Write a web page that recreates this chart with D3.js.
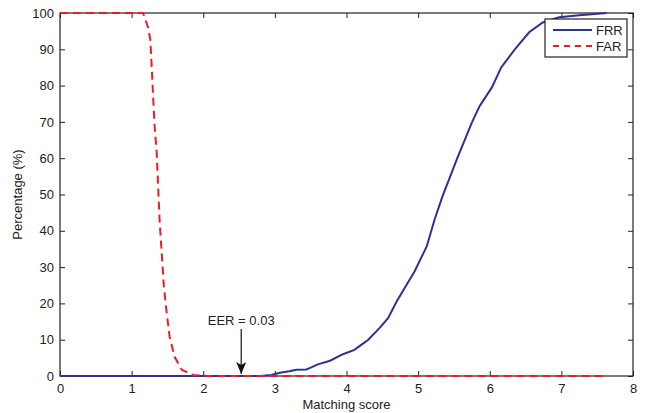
<!DOCTYPE html>
<html>
<head>
<meta charset="utf-8">
<script src="https://cdn.jsdelivr.net/npm/d3@7"></script>
<style>
  body { margin: 0; background: #fff; }
  svg text { font-family: "Liberation Sans", Arial, sans-serif; fill: #222; }
</style>
</head>
<body>
<div id="chart"></div>
<script>
// values
var seriesNames = ["FRR", "FAR"]
var frrX = [0, 2.8, 2.95, 3.07, 3.2, 3.3, 3.44, 3.5, 3.6, 3.77, 3.95, 4.11, 4.2, 4.3, 4.46, 4.58, 4.7, 4.81, 4.95, 5.12, 5.23, 5.34, 5.54, 5.75, 5.86, 6.03, 6.16, 6.35, 6.55, 6.74, 6.97, 7.25, 7.63]
var frrY = [0, 0, 0.3, 0.9, 1.3, 1.7, 1.8, 2.3, 3.2, 4.2, 6.0, 7.2, 8.5, 9.9, 13.2, 15.9, 20.5, 24.2, 28.8, 35.7, 43.1, 49.5, 59.7, 69.8, 74.4, 79.5, 85, 90, 94.7, 97.4, 98.8, 99.4, 100]
var farX = [0, 1.16, 1.23, 1.26, 1.28, 1.3, 1.32, 1.35, 1.37, 1.39, 1.42, 1.45, 1.49, 1.53, 1.6, 1.7, 1.86, 2.05, 7.62]
var farY = [100, 100, 96, 92.8, 85.4, 77, 69, 61.5, 52.3, 43.1, 33.9, 24.7, 17.3, 10.9, 5.3, 1.7, 0.3, 0, 0]
var xTicks = [0, 1, 2, 3, 4, 5, 6, 7, 8]
var yTicks = [0, 10, 20, 30, 40, 50, 60, 70, 80, 90, 100]
var eer = { x: 2.53, label: "EER = 0.03" }

var width = 645, height = 413
var margin = { top: 13, right: 12, bottom: 37, left: 60 }
var w = width - margin.left - margin.right
var h = height - margin.top - margin.bottom

var svg = d3.select("#chart").append("svg")
    .attr("width", width)
    .attr("height", height)

var defs = svg.append("defs")
defs.append("marker")
    .attr("id", "arrow")
    .attr("viewBox", "0 0 12 10")
    .attr("refX", 12).attr("refY", 5)
    .attr("markerWidth", 12).attr("markerHeight", 10)
    .attr("markerUnits", "userSpaceOnUse")
    .attr("orient", "auto")
    .append("path")
    .attr("d", "M0,0 L12,5 L0,10 L3,5 Z")
    .attr("fill", "#111")

var g = svg.append("g")
    .attr("transform", "translate(" + margin.left + "," + margin.top + ")")

var x = d3.scaleLinear().domain([0, 8]).range([0, w])
var y = d3.scaleLinear().domain([0, 100]).range([h, 0])

// axes, ticks pointing inward like matlab
function styleAxis(sel, hideText) {
    sel.select(".domain").remove()
    sel.selectAll("line").attr("stroke", "#222")
    sel.selectAll("text").style("font-size", "13px")
    if (hideText) sel.selectAll("text").remove()
}
g.append("g").attr("transform", "translate(0," + h + ")")
    .call(d3.axisBottom(x).tickValues(xTicks).tickSizeInner(-5).tickPadding(8).tickFormat(d3.format("d")))
    .call(styleAxis, false)
g.append("g")
    .call(d3.axisTop(x).tickValues(xTicks).tickSizeInner(-5))
    .call(styleAxis, true)
g.append("g")
    .call(d3.axisLeft(y).tickValues(yTicks).tickSizeInner(-5).tickPadding(6))
    .call(styleAxis, false)
g.append("g").attr("transform", "translate(" + w + ",0)")
    .call(d3.axisRight(y).tickValues(yTicks).tickSizeInner(-5))
    .call(styleAxis, true)

g.append("rect")
    .attr("width", w).attr("height", h)
    .attr("fill", "none")
    .attr("stroke", "#222")
    .attr("stroke-width", 1.2)

var line = d3.line().x(d => x(d[0])).y(d => y(d[1]))

g.append("path")
    .datum(d3.zip(frrX, frrY))
    .attr("d", line)
    .attr("fill", "none")
    .attr("stroke", "#2e3192")
    .attr("stroke-width", 2)

g.append("path")
    .datum(d3.zip(farX, farY))
    .attr("d", line)
    .attr("fill", "none")
    .attr("stroke", "#ed1c24")
    .attr("stroke-width", 2)
    .attr("stroke-dasharray", "8,5")

// EER annotation
g.append("line")
    .attr("x1", x(eer.x)).attr("x2", x(eer.x))
    .attr("y1", y(0) - 47).attr("y2", y(0) - 2)
    .attr("stroke", "#111")
    .attr("stroke-width", 1.2)
    .attr("marker-end", "url(#arrow)")
g.append("text")
    .attr("x", x(eer.x)).attr("y", y(0) - 51)
    .attr("text-anchor", "middle")
    .style("font-size", "13px")
    .text(eer.label)

// labels
svg.append("text")
    .attr("x", margin.left + w / 2).attr("y", 409)
    .attr("text-anchor", "middle")
    .style("font-size", "13px")
    .text("Matching score")
svg.append("text")
    .attr("transform", "translate(22," + (margin.top + h / 2) + ") rotate(-90)")
    .attr("text-anchor", "middle")
    .style("font-size", "13px")
    .text("Percentage (%)")

// legend
var lg = svg.append("g").attr("transform", "translate(545,19)")
lg.append("rect")
    .attr("width", 82).attr("height", 38)
    .attr("fill", "#fff")
    .attr("stroke", "#222")
    .attr("stroke-width", 1.2)
var legendStyles = [{ c: "#2e3192", d: null }, { c: "#ed1c24", d: "6,5" }]
seriesNames.forEach(function (name, i) {
    var yy = 11 + i * 16
    lg.append("line")
        .attr("x1", 8).attr("x2", 47)
        .attr("y1", yy).attr("y2", yy)
        .attr("stroke", legendStyles[i].c)
        .attr("stroke-width", 2)
        .attr("stroke-dasharray", legendStyles[i].d)
    lg.append("text")
        .attr("x", 51).attr("y", yy + 5)
        .style("font-size", "13px")
        .text(name)
})
</script>
</body>
</html>
